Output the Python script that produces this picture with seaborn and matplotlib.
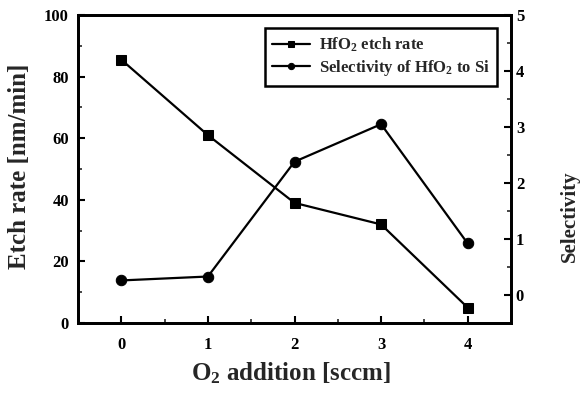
import matplotlib
matplotlib.use("Agg")
import matplotlib.pyplot as plt
import seaborn as sns
import pandas as pd
from matplotlib.ticker import MultipleLocator

o2_addition = [0, 1, 2, 3, 4]
etch_rate = [85.5, 61.0, 39.0, 32.0, 5.0]
selectivity = [0.26, 0.33, 2.38, 3.05, 0.92]
x_ticks = [0, 1, 2, 3, 4]
left_ticks = [0, 20, 40, 60, 80, 100]
right_ticks = [0, 1, 2, 3, 4, 5]

sns.set_theme(style="ticks")
plt.rcParams['font.family'] = ['Liberation Serif', 'DejaVu Serif']
plt.rcParams['font.weight'] = 'bold'
plt.rcParams['mathtext.fontset'] = 'custom'
plt.rcParams['mathtext.rm'] = 'Liberation Serif:bold'
plt.rcParams['mathtext.it'] = 'Liberation Serif:bold:italic'
plt.rcParams['mathtext.bf'] = 'Liberation Serif:bold'
plt.rcParams['mathtext.default'] = 'rm'

df = pd.DataFrame({"o2": o2_addition, "etch": etch_rate, "sel": selectivity})

fig = plt.figure(figsize=(5.85, 3.94), dpi=100)
ax = fig.add_axes([78/585, 1-323/394, (511-78)/585, (323-15)/394])
ax2 = ax.twinx()

sns.lineplot(data=df, x="o2", y="etch", ax=ax, color="black", marker="s",
             markersize=7, markeredgecolor="black", linewidth=1.6,
             label="HfO$_2$ etch rate", legend=False)
sns.lineplot(data=df, x="o2", y="sel", ax=ax2, color="black", marker="o",
             markersize=7.5, markeredgecolor="black", linewidth=1.6,
             label="Selectivity of HfO$_2$ to Si", legend=False)

ax.set_xlim(-0.5, 4.5)
ax.set_ylim(0, 100)
ax2.set_ylim(-0.5, 5)
ax.set_xticks(x_ticks)
ax.set_yticks(left_ticks)
ax2.set_yticks(right_ticks)
ax.xaxis.set_minor_locator(MultipleLocator(0.5))
ax.yaxis.set_minor_locator(MultipleLocator(10))
ax2.yaxis.set_minor_locator(MultipleLocator(0.5))
ax.set_xlabel("")
ax.set_ylabel("")
ax2.set_ylabel("")

for a in (ax, ax2):
    for s in a.spines.values():
        s.set_linewidth(2)
        s.set_color("black")
    a.tick_params(which="major", direction="in", length=5, width=1.5,
                  labelsize=12, colors="black")
    a.tick_params(which="minor", direction="in", length=3, width=1.2)
    for lab in a.get_xticklabels() + a.get_yticklabels():
        lab.set_fontweight("bold")
ax.tick_params(axis="x", which="major", pad=10)
ax.tick_params(axis="y", which="major", pad=6.5)
ax2.tick_params(axis="y", which="major", pad=3.5)

fig.text(0.034, 0.579, "Etch rate [nm/min]", rotation=90, ha="center",
         va="center", fontsize=18, fontweight="bold")
fig.text(0.497, 1-380/394, "O$_2$ addition [sccm]", ha="center", va="baseline",
         fontsize=18, fontweight="bold")
fig.text(0.974, 0.452, "Selectivity", rotation=90, ha="center", va="center",
         fontsize=15, fontweight="bold")

h1, l1 = ax.get_legend_handles_labels()
h2, l2 = ax2.get_legend_handles_labels()
leg = ax2.legend(h1 + h2, l1 + l2, loc="upper right",
                 bbox_to_anchor=(497/585, 1-28/394), bbox_transform=fig.transFigure,
                 borderaxespad=0, frameon=True, fancybox=False,
                 prop={"family": "Liberation Serif", "weight": "bold", "size": 12},
                 handlelength=2.3, handletextpad=0.5, markerscale=0.6,
                 borderpad=0.45, labelspacing=0.25)
leg.get_frame().set_edgecolor("black")
leg.get_frame().set_linewidth(1.8)
leg.get_frame().set_alpha(1)

fig.savefig("out.png", dpi=100)
